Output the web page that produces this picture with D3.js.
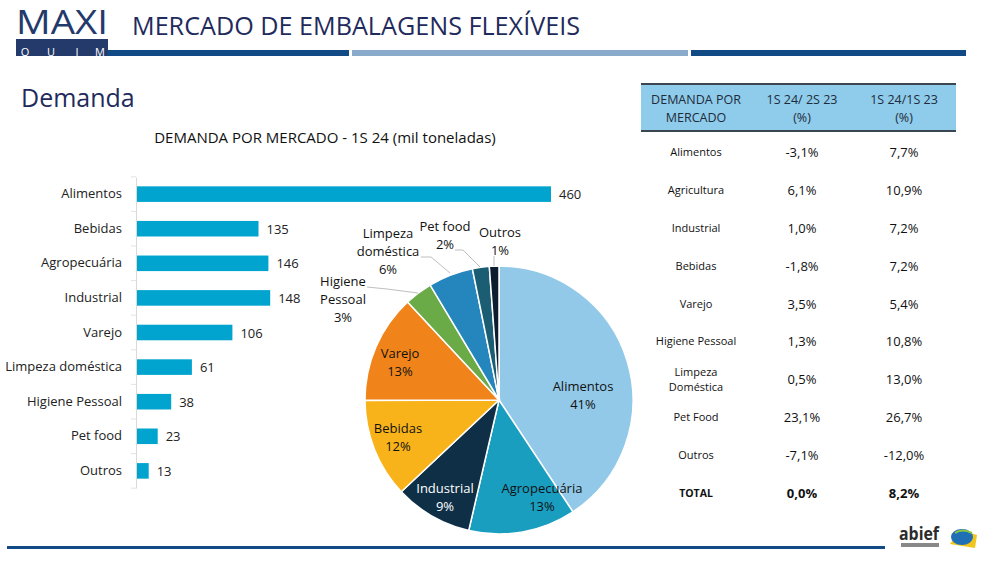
<!DOCTYPE html>
<html><head><meta charset="utf-8">
<script src="https://cdn.jsdelivr.net/npm/d3@7"></script>
<style>
body{margin:0;background:#fff;}
svg{display:block;}
text{font-family:"Open Sans","Liberation Sans",sans-serif;}
</style></head>
<body>
<svg id="c" width="1000" height="563"></svg>
<script>
// ---- data ----
const barCategories = ["Alimentos","Bebidas","Agropecuária","Industrial","Varejo","Limpeza doméstica","Higiene Pessoal","Pet food","Outros"];
const barValues = [460,135,146,148,106,61,38,23,13];

const pieCategories = ["Alimentos","Agropecuária","Industrial","Bebidas","Varejo","Higiene Pessoal","Limpeza doméstica","Pet food","Outros"];
const pieValues = [460,146,106,135,148,38,61,23,13];
const pieLabels = [["Alimentos","41%"],["Agropecuária","13%"],["Industrial","9%"],["Bebidas","12%"],["Varejo","13%"],["Higiene","Pessoal","3%"],["Limpeza","doméstica","6%"],["Pet food","2%"],["Outros","1%"]];
const pieColors = ["#93c9e8","#1a9ec0","#0e2f46","#f8b31a","#f0841a","#6aab47","#2585bd","#1b5e73","#0b1d2e"];

const tableHeader = [["DEMANDA POR","MERCADO"],["1S 24/ 2S 23","(%)"],["1S 24/1S 23","(%)"]];
const tableMarkets = [["Alimentos"],["Agricultura"],["Industrial"],["Bebidas"],["Varejo"],["Higiene Pessoal"],["Limpeza","Doméstica"],["Pet Food"],["Outros"],["TOTAL"]];
const tableH2 = ["-3,1%","6,1%","1,0%","-1,8%","3,5%","1,3%","0,5%","23,1%","-7,1%","0,0%"];
const tableH1 = ["7,7%","10,9%","7,2%","7,2%","5,4%","10,8%","13,0%","26,7%","-12,0%","8,2%"];

const svg = d3.select("#c");
const navy = "#1f2b5c";

// ---- header / logo ----
svg.append("text").attr("x",16).attr("y",34).attr("font-family","Roboto, sans-serif")
  .attr("font-size",32).attr("fill","#243a6b").attr("textLength",92).attr("lengthAdjust","spacingAndGlyphs").text("MAXI");
svg.append("rect").attr("x",16).attr("y",39).attr("width",92).attr("height",17).attr("fill","#243a6b");
const qx = [25,51,77,100];
["Q","U","I","M"].forEach((ch,i)=>svg.append("text").attr("x",qx[i]).attr("y",55.5).attr("text-anchor","middle")
  .attr("font-family","Roboto, sans-serif").attr("font-size",11).attr("fill","#fff").text(ch));
svg.append("text").attr("x",132).attr("y",35).attr("font-family","Roboto, sans-serif").attr("font-size",26)
  .attr("fill",navy).attr("textLength",448).attr("lengthAdjust","spacingAndGlyphs").text("MERCADO DE EMBALAGENS FLEXÍVEIS");
svg.append("rect").attr("x",107).attr("y",50).attr("width",242).attr("height",6).attr("fill","#124a85");
svg.append("rect").attr("x",352).attr("y",50).attr("width",336).attr("height",6).attr("fill","#8aaacb");
svg.append("rect").attr("x",691).attr("y",50).attr("width",275).attr("height",6).attr("fill","#124a85");
svg.append("text").attr("x",21).attr("y",107).attr("font-family","Roboto, sans-serif").attr("font-size",25).attr("fill",navy).text("Demanda");
svg.append("rect").attr("x",7).attr("y",546).attr("width",878).attr("height",3).attr("fill","#124a85");

// ---- bar chart ----
svg.append("text").attr("x",325).attr("y",143).attr("text-anchor","middle").attr("font-size",15).attr("fill","#111")
  .text("DEMANDA POR MERCADO - 1S 24 (mil toneladas)");
const x = d3.scaleLinear().domain([0,460]).range([137,551]);
const y = d3.scaleBand().domain(barCategories).range([177,488]).paddingInner(0.55).paddingOuter(0.27);
const gb = svg.append("g");
gb.selectAll("rect").data(barCategories).join("rect")
  .attr("x",x(0)).attr("y",d=>y(d)).attr("width",(d,i)=>x(barValues[i])-x(0)).attr("height",y.bandwidth()).attr("fill","#00a4cf");
gb.selectAll("text.v").data(barCategories).join("text").attr("class","v")
  .attr("x",(d,i)=>x(barValues[i])+8).attr("y",d=>y(d)+y.bandwidth()/2+5).attr("font-size",13).attr("fill","#222")
  .text((d,i)=>barValues[i]);
const ax = svg.append("g").attr("transform",`translate(${x(0)-1},0)`)
  .call(d3.axisLeft(y).tickSize(0).tickPadding(14));
ax.select(".domain").attr("stroke","#d9d9d9");
ax.selectAll("text").attr("font-size",13).attr("fill","#222").attr("font-family","'Open Sans',sans-serif");
// category separators
const step = y.step();
svg.append("g").selectAll("line").data(d3.range(barCategories.length+1)).join("line")
  .attr("x1",x(0)-6).attr("x2",x(0)-1)
  .attr("y1",i=>y(barCategories[0])-(step-y.bandwidth())/2+i*step).attr("y2",i=>y(barCategories[0])-(step-y.bandwidth())/2+i*step)
  .attr("stroke","#e3e3e3");

// ---- pie ----
const cx=499, cy=400, R=134;
const pie = d3.pie().sort(null).value(d=>d)(pieValues);
const arc = d3.arc().innerRadius(0).outerRadius(R);
const gp = svg.append("g").attr("transform",`translate(${cx},${cy})`);
gp.selectAll("path").data(pie).join("path").attr("d",arc).attr("fill",(d,i)=>pieColors[i]).attr("stroke","#fff").attr("stroke-width",1.5);
const labelPos = [[84,-5],[43,97],[-54,97],[-101,37],[-99,-38],[-156,-101],[-111,-149],[-54,-165],[1,-159]];
const labelFill = ["#111","#111","#fff","#111","#111","#111","#111","#111","#111"];
pie.forEach((d,i)=>{
  const lines = pieLabels[i];
  const t = gp.append("text").attr("text-anchor","middle").attr("font-size",13).attr("fill",labelFill[i]);
  lines.forEach((l,j)=>t.append("tspan").attr("x",labelPos[i][0]).attr("y",labelPos[i][1]+j*18 - (lines.length-1)*9 + 5).text(l));
});
// leader lines
const leaders = [
  [5,[[-132,-113],[-112,-111],[-81,-107]]],
  [6,[[-78,-143],[-68,-143],[-49,-127]]],
  [7,[[-44,-150],[-36,-150],[-19,-133]]],
  [8,[[-5,-144],[-5,-134]]]
];
leaders.forEach(([i,pts])=>{
  gp.append("path").attr("d",d3.line()(pts)).attr("fill","none").attr("stroke","#bfbfbf").attr("stroke-width",1);
});

// ---- table ----
const tx=[696,802,904];
svg.append("rect").attr("x",641).attr("y",84).attr("width",315).attr("height",47).attr("fill","#8fcbea");
svg.append("rect").attr("x",641).attr("y",83).attr("width",315).attr("height",2).attr("fill","#3c4650");
svg.append("rect").attr("x",641).attr("y",130).attr("width",315).attr("height",2).attr("fill","#3c4650");
tableHeader.forEach((h,c)=>h.forEach((l,j)=>svg.append("text").attr("x",tx[c]).attr("y",104+j*18).attr("text-anchor","middle")
  .attr("font-size",12.5).attr("fill","#1d2b3a").attr("font-family","'Open Sans',sans-serif").text(l)));
const rowY = d3.scaleLinear().domain([0,9]).range([152,493]);
tableMarkets.forEach((m,r)=>{
  const bold = r===9;
  m.forEach((l,j)=>svg.append("text").attr("x",tx[0]).attr("y",rowY(r)+4+(j-(m.length-1)/2)*15).attr("text-anchor","middle")
    .attr("font-size",bold?10.5:11).attr("font-weight",bold?"bold":"normal").attr("fill","#111").text(l));
  svg.append("text").attr("x",tx[1]).attr("y",rowY(r)+5).attr("text-anchor","middle").attr("font-size",13)
    .attr("font-weight",bold?"bold":"normal").attr("fill","#111").text(tableH2[r]);
  svg.append("text").attr("x",tx[2]).attr("y",rowY(r)+5).attr("text-anchor","middle").attr("font-size",13)
    .attr("font-weight",bold?"bold":"normal").attr("fill","#111").text(tableH1[r]);
});

// ---- abief logo ----
const lg = svg.append("g");
lg.append("text").attr("x",899).attr("y",540).attr("font-size",17).attr("font-weight","bold").attr("fill","#2b2b2b")
  .attr("font-family","'DejaVu Sans',sans-serif").attr("textLength",40).attr("lengthAdjust","spacingAndGlyphs").text("abief");
lg.append("rect").attr("x",901).attr("y",543).attr("width",38).attr("height",4).attr("fill","#888");
lg.append("path").attr("d","M950,544 L975,548 L977,535 L960,530 Z").attr("fill","#f2c51c");
lg.append("ellipse").attr("cx",962).attr("cy",537).attr("rx",11).attr("ry",8).attr("fill","#1f6fb5");
lg.append("path").attr("d","M955,533 Q962,528 972,533").attr("fill","none").attr("stroke","#8cc63f").attr("stroke-width",2);
</script>
</body></html>
